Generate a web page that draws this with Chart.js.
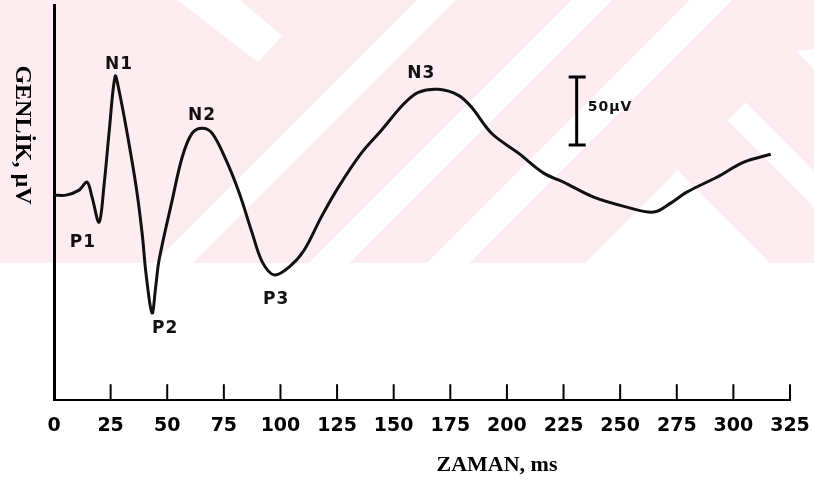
<!DOCTYPE html>
<html>
<head>
<meta charset="utf-8">
<script src="https://cdn.jsdelivr.net/npm/chart.js@4.4.1/dist/chart.umd.min.js"></script>
<style>
  html, body { margin: 0; padding: 0; background: #fff; }
  #wrap { width: 814px; height: 482px; }
</style>
</head>
<body>
<div id="wrap"><canvas id="aepChart" width="814" height="482"></canvas></div>
<script>
// evoked potential trace (time in ms, amplitude in µV)
const timeMs = [0, 5.3, 11.1, 14.6, 16.8, 19.9, 22.1, 24.3, 27.0, 28.7, 32.3, 36.3, 38.9, 40.7, 43.3,
  44.9, 46.4, 52.2, 56.6, 61.0, 65.4, 69.8, 76.0, 81.8, 87.5, 92.0, 97.3, 103.9, 110.5, 118.0, 125.6,
  135.7, 144.6, 154.7, 160.9, 169.8, 178.6, 184.4, 193.2, 205.1, 216.2, 225.0, 238.3, 252.9,
  264.8, 272.3, 279.4, 292.7, 304.6, 316.5];
const amplitudeUv = [0, 0, 3.7, 9.6, -1.5, -19.9, 7.4, 45.6, 87.5, 77.2, 45.6, 5.9, -27.9, -58.8, -86.8,
  -67.6, -47.8, -3.7, 27.9, 45.6, 49.3, 45.6, 25.7, 1.5, -27.9, -49.3, -58.8, -52.9, -40.4, -16.2, 5.9,
  30.9, 47.8, 67.6, 75.7, 77.9, 73.5, 64.7, 45.6, 30.9, 16.2, 9.6, -1.5, -8.8,
  -12.5, -5.9, 2.2, 13.2, 24.3, 30.1];
const xTicks = [0, 25, 50, 75, 100, 125, 150, 175, 200, 225, 250, 275, 300, 325];

// peak names and where their labels sit (ms, µV)
const peakNames = ['P1', 'N1', 'P2', 'N2', 'P3', 'N3'];
const peakLabelMs = [12.8, 28.7, 49.1, 65.4, 98.1, 162.2];
const peakLabelUv = [-34.6, 96.3, -98.5, 58.8, -77.2, 89.7];

// calibration bar: 50 µV
const scaleBarMs = 230.8;
const scaleBarUv = [37, 87];
const scaleBarText = '50µV';

// pink watermark behind the upper part of the figure
const watermark = {
  id: 'watermark',
  beforeDraw(chart) {
    const ctx = chart.ctx;
    const H = 263, W = chart.width;
    ctx.save();
    ctx.beginPath();
    ctx.rect(0, 0, W, H);
    ctx.clip();
    ctx.fillStyle = 'rgb(253,237,240)';
    ctx.fillRect(0, 0, W, H);
    ctx.fillStyle = '#fff';
    const poly = pts => {
      ctx.beginPath();
      ctx.moveTo(pts[0][0], pts[0][1]);
      pts.slice(1).forEach(p => ctx.lineTo(p[0], p[1]));
      ctx.closePath();
      ctx.fill();
    };
    // down-right stroke at the top left
    poly([[177, 0], [240, 0], [282, 36], [258, 62]]);
    // up-right bands (x + y = const)
    [[417, 456], [572, 612], [690, 732]].forEach(([a, b]) => {
      poly([[a, 0], [b, 0], [b - 400, 400], [a - 400, 400]]);
    });
    // lower right chevron pieces: x + y >= 848
    const c = 848;
    poly([[c / 2 + 507 / 2, c / 2 - 507 / 2], [507 + 400, 400], [0, 1000], [c - 400, 400]]);
    poly([[(c + 607) / 2, (c - 607) / 2], [(c + 643) / 2, (c - 643) / 2], [643 + 400, 400], [607 + 400, 400]]);
    poly([[(c + 745) / 2, (c - 745) / 2], [1200, 0], [1200, 400], [745 + 400, 400]]);
    ctx.restore();
  }
};

// inward tick marks, peak names, calibration bar and axis titles
const annotations = {
  id: 'annotations',
  afterDraw(chart) {
    const ctx = chart.ctx;
    const xs = chart.scales.x, ys = chart.scales.y;
    const base = chart.chartArea.bottom;
    ctx.save();
    ctx.strokeStyle = '#000';
    ctx.lineWidth = 2;
    xTicks.slice(1).forEach(t => {
      const px = xs.getPixelForValue(t);
      ctx.beginPath();
      ctx.moveTo(px, base);
      ctx.lineTo(px, base - 16);
      ctx.stroke();
    });

    ctx.fillStyle = '#111';
    ctx.font = 'bold 17px "DejaVu Sans"';
    ctx.letterSpacing = '1px';
    ctx.textAlign = 'center';
    ctx.textBaseline = 'middle';
    peakNames.forEach((name, i) => {
      ctx.fillText(name, xs.getPixelForValue(peakLabelMs[i]), ys.getPixelForValue(peakLabelUv[i]));
    });

    // calibration bar
    const bx = xs.getPixelForValue(scaleBarMs);
    const by0 = ys.getPixelForValue(scaleBarUv[0]);
    const by1 = ys.getPixelForValue(scaleBarUv[1]);
    ctx.lineWidth = 3;
    ctx.beginPath();
    ctx.moveTo(bx, by0); ctx.lineTo(bx, by1);
    ctx.moveTo(bx - 8, by0); ctx.lineTo(bx + 9, by0);
    ctx.moveTo(bx - 8, by1); ctx.lineTo(bx + 9, by1);
    ctx.stroke();
    ctx.font = 'bold 14px "DejaVu Sans"';
    ctx.letterSpacing = '1px';
    ctx.textAlign = 'left';
    ctx.fillText(scaleBarText, bx + 11, (by0 + by1) / 2 - 4);

    // axis titles
    ctx.letterSpacing = '0px';
    ctx.fillStyle = '#000';
    ctx.font = 'bold 22px "Liberation Serif"';
    ctx.textAlign = 'center';
    ctx.fillText('ZAMAN, ms', 497, 465);
    ctx.font = 'bold 24px "Liberation Serif"';
    ctx.translate(22, 135);
    ctx.rotate(Math.PI / 2);
    ctx.fillText('GENLİK, µV', 0, 0);
    ctx.restore();
  }
};

const points = timeMs.map((t, i) => ({ x: t, y: amplitudeUv[i] }));

new Chart(document.getElementById('aepChart'), {
  type: 'line',
  data: {
    datasets: [{
      data: points,
      borderColor: '#111',
      borderWidth: 3,
      pointRadius: 0,
      fill: false,
      tension: 0.35
    }]
  },
  options: {
    responsive: false,
    animation: false,
    devicePixelRatio: 1,
    layout: { padding: { left: 54, right: 24, top: 5, bottom: 31 } },
    plugins: { legend: { display: false }, tooltip: { enabled: false } },
    scales: {
      x: {
        type: 'linear',
        min: 0,
        max: 325,
        afterBuildTicks: scale => { scale.ticks = xTicks.map(v => ({ value: v })); },
        afterFit: scale => { scale.paddingLeft = 0; scale.paddingRight = 0; },
        ticks: {
          autoSkip: false,
          maxRotation: 0,
          padding: 14,
          color: '#000',
          font: { family: 'DejaVu Sans', size: 19, weight: 'bold' }
        },
        grid: { display: false, drawTicks: false },
        border: { color: '#000', width: 2 }
      },
      y: {
        min: -151,
        max: 140,
        ticks: { display: false },
        grid: { display: false, drawTicks: false },
        border: { color: '#000', width: 3 }
      }
    }
  },
  plugins: [watermark, annotations]
});
</script>
</body>
</html>
